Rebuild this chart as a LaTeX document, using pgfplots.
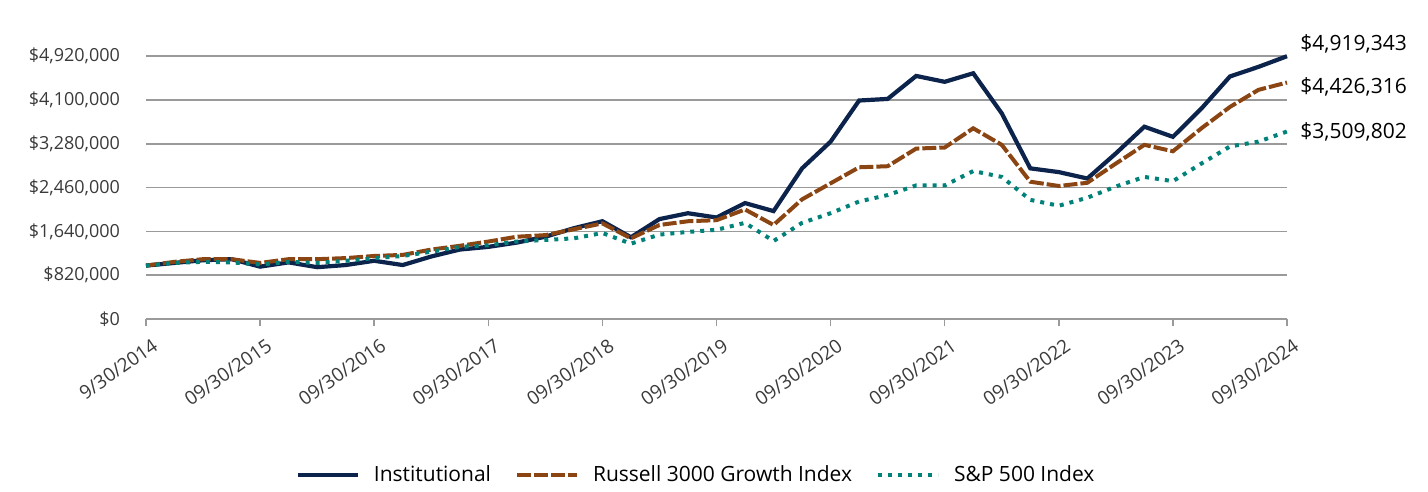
\documentclass[border=0pt]{standalone}
\usepackage{pgfplots}
\pgfplotsset{compat=1.18}
\usepackage{pgfplotstable}
\usepackage{fontspec}
\setmainfont{Open Sans}
\definecolor{navy}{HTML}{0C234B}
\definecolor{brown}{HTML}{8B4513}
\definecolor{teal}{HTML}{00827A}
\definecolor{gridgray}{HTML}{9A9A9A}
\definecolor{labgray}{HTML}{3A3A3A}
\pgfplotstableread{
x inst russ sp
0 1000000 1000000 1000000
1 1050000 1070000 1050000
2 1100000 1120000 1070000
3 1120000 1120000 1060000
4 980000 1050000 1020000
5 1060000 1120000 1070000
6 970000 1120000 1050000
7 1010000 1140000 1090000
8 1090000 1180000 1140000
9 1010000 1200000 1180000
10 1170000 1300000 1260000
11 1300000 1370000 1350000
12 1350000 1450000 1380000
13 1430000 1540000 1450000
14 1540000 1570000 1480000
15 1700000 1680000 1510000
16 1830000 1790000 1610000
17 1530000 1510000 1410000
18 1870000 1760000 1580000
19 1980000 1830000 1630000
20 1900000 1850000 1670000
21 2170000 2050000 1800000
22 2020000 1760000 1460000
23 2820000 2240000 1800000
24 3320000 2540000 1980000
25 4090000 2840000 2200000
26 4120000 2860000 2320000
27 4550000 3190000 2500000
28 4440000 3210000 2500000
29 4600000 3570000 2770000
30 3850000 3260000 2660000
31 2820000 2570000 2230000
32 2750000 2490000 2120000
33 2630000 2550000 2270000
34 3100000 2910000 2480000
35 3600000 3260000 2660000
36 3410000 3140000 2580000
37 3940000 3570000 2910000
38 4540000 3970000 3230000
39 4720000 4290000 3320000
40 4919343 4426316 3509802
}\data
\begin{document}
\begin{tikzpicture}
\path[use as bounding box] (-73pt,-86.5pt) rectangle (641pt,159.5pt);
\begin{axis}[
  at={(0,0)}, anchor=south west,
  scale only axis, width=570.5pt, height=144.5pt,
  xmin=0, xmax=40, ymin=0, ymax=5410080,
  clip=false,
  scaled ticks=false,
  axis line style={draw=none},
  ymajorgrids, grid style={gridgray, line width=0.75pt},
  xtick={0,4,...,40},
  xticklabels={9/30/2014,09/30/2015,09/30/2016,09/30/2017,09/30/2018,09/30/2019,09/30/2020,09/30/2021,09/30/2022,09/30/2023,09/30/2024},
  ytick={0,820000,1640000,2460000,3280000,4100000,4920000},
  yticklabels={{\$0},{\$820,000},{\$1,640,000},{\$2,460,000},{\$3,280,000},{\$4,100,000},{\$4,920,000}},
  xtick pos=lower, ytick pos=left,
  tick align=outside,
  xtick style={draw=gridgray, line width=0.75pt},
  major tick length=3.5pt,
  ytick style={draw=none},
  xticklabel style={rotate=35, anchor=north east, inner sep=1pt, font=\fontsize{9.5}{11}\selectfont, text=labgray, yshift=-5pt, xshift=0pt},
  yticklabel style={font=\fontsize{9}{11}\selectfont, text=labgray, anchor=east, xshift=-6pt},
  legend columns=3,
  legend style={draw=none, at={(0.483,-0.54)}, anchor=center, font=\fontsize{10.5}{12}\selectfont,
    /tikz/every odd column/.append style={column sep=5pt},
    /tikz/every even column/.append style={column sep=10pt}},
  legend cell align=left,
  legend image code/.code={\draw[#1] (0pt,0pt) -- (30pt,0pt);},
]
\addplot[navy, line width=2.1pt] table[x=x,y=inst] {\data};
\addlegendentry{Institutional}
\addplot[brown, line width=2pt, dash pattern=on 7pt off 1.5pt] table[x=x,y=russ] {\data};
\addlegendentry{Russell 3000 Growth Index}
\addplot[teal, line width=2pt, dash pattern=on 2pt off 3pt] table[x=x,y=sp] {\data};
\addlegendentry{S\&P 500 Index}
\node[anchor=west, font=\fontsize{10.5}{12}\selectfont, inner sep=0pt] at (axis cs:40,5148000) [xshift=6.5pt] {\$4,919,343};
\node[anchor=west, font=\fontsize{10.5}{12}\selectfont, inner sep=0pt] at (axis cs:40,4350000) [xshift=6.5pt] {\$4,426,316};
\node[anchor=west, font=\fontsize{10.5}{12}\selectfont, inner sep=0pt] at (axis cs:40,3506000) [xshift=6.5pt] {\$3,509,802};
\end{axis}
\end{tikzpicture}
\end{document}
